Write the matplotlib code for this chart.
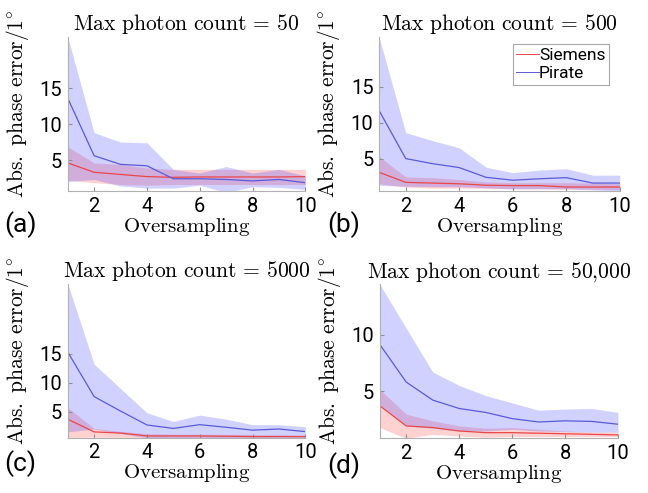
import matplotlib
matplotlib.use('Agg')
import matplotlib.pyplot as plt

plt.rcParams['font.family'] = ['Roboto', 'DejaVu Sans']
plt.rcParams['mathtext.fontset'] = 'cm'

oversampling = [1, 2, 3, 4, 5, 6, 7, 8, 9, 10]
titles = ['50', '500', '5000', '50{,}000']
panel_labels = ['(a)', '(b)', '(c)', '(d)']

# (a) max photon count = 50
siemens_a = [4.6, 3.3, 3.0, 2.7, 2.6, 2.65, 2.65, 2.65, 2.65, 2.7]
siemens_a_hi = [6.85, 4.6, 4.4, 3.9, 3.7, 3.7, 3.7, 3.7, 3.7, 3.7]
siemens_a_lo = [2.2, 1.85, 1.6, 1.5, 1.6, 1.6, 1.6, 1.6, 1.6, 1.6]
pirate_a = [13.6, 5.6, 4.4, 4.2, 2.4, 2.4, 2.3, 2.1, 2.3, 1.85]
pirate_a_hi = [22.1, 8.8, 7.5, 7.4, 3.7, 3.2, 4.1, 3.2, 3.7, 2.8]
pirate_a_lo = [2.0, 2.3, 1.4, 1.1, 1.1, 1.5, 0.5, 1.3, 1.2, 0.9]

# (b) max photon count = 500
siemens_b = [3.1, 1.7, 1.6, 1.5, 1.3, 1.25, 1.25, 1.05, 1.05, 1.05]
siemens_b_hi = [5.3, 2.45, 2.35, 2.1, 1.75, 1.65, 1.65, 1.65, 1.6, 1.5]
siemens_b_lo = [1.5, 1.05, 0.9, 0.9, 0.85, 0.8, 0.8, 0.75, 0.75, 0.7]
pirate_b = [11.7, 5.0, 4.3, 3.75, 2.4, 2.0, 2.2, 2.35, 1.6, 1.6]
pirate_b_hi = [21.9, 8.6, 7.5, 6.5, 3.8, 3.05, 3.4, 3.6, 2.7, 2.7]
pirate_b_lo = [1.3, 1.15, 1.1, 1.1, 0.95, 0.8, 0.8, 0.8, 0.65, 0.5]

# (c) max photon count = 5000
siemens_c = [3.7, 1.5, 1.3, 0.8, 0.8, 0.8, 0.75, 0.7, 0.7, 0.7]
siemens_c_hi = [5.7, 2.1, 1.6, 1.2, 1.1, 1.1, 1.05, 1.0, 0.95, 0.9]
siemens_c_lo = [0.5, 0.6, 0.55, 0.5, 0.5, 0.5, 0.5, 0.5, 0.5, 0.5]
pirate_c = [15.3, 7.6, 5.1, 2.7, 2.1, 2.75, 2.3, 1.8, 2.0, 1.55]
pirate_c_hi = [27.1, 13.2, 9.0, 4.8, 3.3, 4.4, 3.7, 2.75, 2.75, 2.4]
pirate_c_lo = [1.5, 2.0, 1.2, 0.5, 0.5, 0.55, 0.5, 0.5, 0.5, 0.5]

# (d) max photon count = 50,000
siemens_d = [3.7, 1.9, 1.75, 1.45, 1.3, 1.3, 1.25, 1.2, 1.15, 1.1]
siemens_d_hi = [5.15, 2.95, 2.35, 1.9, 1.7, 1.75, 1.6, 1.45, 1.35, 1.35]
siemens_d_lo = [1.75, 0.8, 1.15, 1.0, 0.9, 0.95, 0.95, 0.95, 0.95, 0.95]
pirate_d = [9.15, 5.8, 4.2, 3.45, 3.1, 2.55, 2.25, 2.35, 2.3, 2.05]
pirate_d_hi = [14.5, 10.6, 6.7, 5.5, 4.6, 3.95, 3.3, 3.4, 3.45, 3.1]
pirate_d_lo = [3.8, 1.9, 1.7, 1.45, 1.45, 1.6, 1.45, 1.4, 1.35, 1.35]

siemens = [(siemens_a, siemens_a_lo, siemens_a_hi), (siemens_b, siemens_b_lo, siemens_b_hi),
           (siemens_c, siemens_c_lo, siemens_c_hi), (siemens_d, siemens_d_lo, siemens_d_hi)]
pirate = [(pirate_a, pirate_a_lo, pirate_a_hi), (pirate_b, pirate_b_lo, pirate_b_hi),
          (pirate_c, pirate_c_lo, pirate_c_hi), (pirate_d, pirate_d_lo, pirate_d_hi)]
ylims = [(0.7, 22.1), (0.5, 21.9), (0.5, 27.1), (0.8, 14.5)]
yticks = [[5, 10, 15], [5, 10, 15], [5, 10, 15], [5, 10]]

# axes boxes (figure fraction)
boxes = [[0.1045, 0.6126, 0.3667, 0.3124], [0.5849, 0.6126, 0.3715, 0.3124],
         [0.1045, 0.1122, 0.3667, 0.3124], [0.586, 0.111, 0.3677, 0.3124]]
label_pos = [(4, 225), (327, 225), (4, 464), (327, 466)]

red = '#e8474a'
blue = '#5a5ad8'

fig = plt.figure(figsize=(6.48, 4.93), dpi=100)
for i in range(4):
    ax = fig.add_axes(boxes[i])
    m, lo, hi = siemens[i]
    ax.fill_between(oversampling, lo, hi, color='#ff3030', alpha=0.22, lw=0)
    ax.plot(oversampling, m, color=red, lw=0.9, label='Siemens')
    m, lo, hi = pirate[i]
    ax.fill_between(oversampling, lo, hi, color='#3030ff', alpha=0.22, lw=0)
    ax.plot(oversampling, m, color=blue, lw=0.9, label='Pirate')

    ax.set_xlim(1, 10)
    ax.set_ylim(*ylims[i])
    ax.set_xticks([2, 4, 6, 8, 10])
    ax.set_yticks(yticks[i])
    for s in ['top', 'right']:
        ax.spines[s].set_visible(False)
    for s in ['left', 'bottom']:
        ax.spines[s].set_color('#b0b0b0')
        ax.spines[s].set_linewidth(0.8)
    ax.tick_params(direction='in', length=3, color='#909090', labelsize=14.5, pad=4)

    ax.set_title(r'$\mathrm{Max\ photon\ count}\,=\,' + titles[i] + '$', fontsize=15.5, pad=5)
    ax.set_xlabel(r'$\mathrm{Oversampling}$', fontsize=15, labelpad=0)
    ax.set_ylabel(r'$\mathrm{Abs.\ phase\ error}/1^{\circ}$', fontsize=15.5)
    ax.yaxis.set_label_coords(-0.155, 0.565)

    fig.text(label_pos[i][0] / 648, 1 - label_pos[i][1] / 493, panel_labels[i],
             fontsize=19, va='center', ha='left')

    if i == 1:
        leg = ax.legend(loc='upper right', bbox_to_anchor=(0.955, 0.953), borderaxespad=0,
                        fontsize=12.5, fancybox=False, handlelength=1.3, handletextpad=0.0,
                        borderpad=0.2, labelspacing=0.2)
        leg.get_frame().set_edgecolor('#909090')
        leg.get_frame().set_linewidth(0.8)
        for ln in leg.get_lines():
            ln.set_linewidth(0.7)

fig.savefig('out.png', dpi=100)
